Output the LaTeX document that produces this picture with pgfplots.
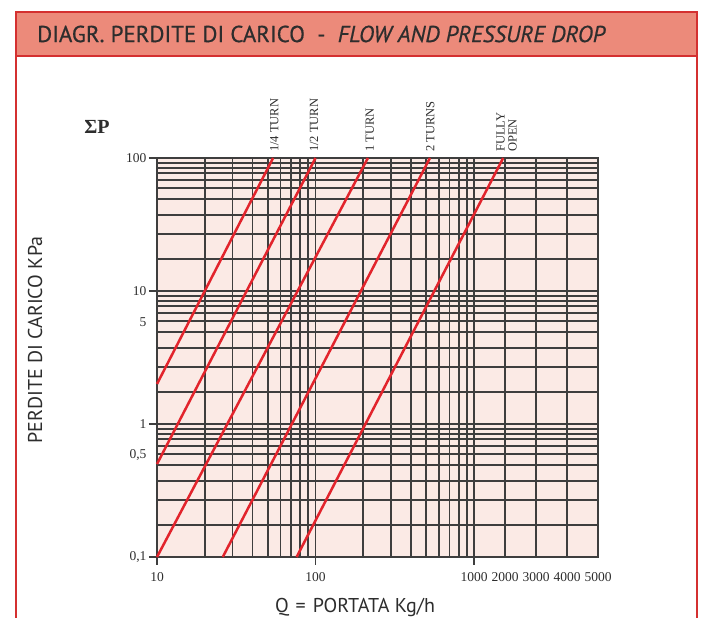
\documentclass[border=0pt]{standalone}
\usepackage{fontspec}
\setmainfont{Liberation Serif}
\newfontfamily\sansf{PT Sans}
\newfontfamily\headf[FakeBold=0.6]{PT Sans}
\usepackage{pgfplots}
\pgfplotsset{compat=1.18}
\definecolor{framec}{RGB}{212,48,48}
\definecolor{headbg}{RGB}{236,138,122}
\definecolor{plotbg}{RGB}{251,234,229}
\definecolor{gridc}{RGB}{62,62,62}
\definecolor{curve}{RGB}{226,36,44}
\definecolor{txt}{RGB}{45,45,45}
% piecewise scale of the chart: logarithmic up to 1000, then equal steps of 1000
\newcommand\qtrafo[1]{%
  \begingroup
  \pgfkeys{/pgf/fpu=true,/pgf/fpu/output format=fixed}%
  \pgfmathparse{(#1<=1000) ? (ln(#1)/ln(10)) : (3+(#1-1000)*0.0001955)}%
  \xdef\qtmp{\pgfmathresult}%
  \endgroup
  \let\pgfmathresult\qtmp}
\tikzset{curvelab/.style={rotate=90, anchor=west, inner sep=0pt, text=txt, font=\fontsize{12.5}{12}\selectfont}}
\begin{document}
\begin{tikzpicture}
\path[use as bounding box] (0pt,0pt) rectangle (705pt,-618pt);
\fill[headbg] (16pt,-12pt) rectangle (697pt,-56pt);
\draw[framec, line width=2.2pt] (16pt,-625pt) -- (16pt,-12pt) -- (697pt,-12pt) -- (697pt,-625pt);
\draw[framec, line width=1.8pt] (16pt,-56pt) -- (697pt,-56pt);
\node[anchor=west, text=txt, inner sep=0pt] at (37pt,-34pt) {\headf\fontsize{23}{26}\selectfont DIAGR. PERDITE DI CARICO\ \ -\ \ \itshape FLOW AND PRESSURE DROP};
\node[rotate=90, text=txt] at (35pt,-340pt) {\sansf\fontsize{20}{22}\selectfont PERDITE DI CARICO KPa};
\node[text=txt] at (355pt,-607pt) {\sansf\fontsize{20}{22}\selectfont Q\hspace{0.35em}=\hspace{0.35em}PORTATA Kg/h};
\node[text=txt] at (97pt,-127pt) {\fontsize{20}{20}\selectfont\bfseries ΣP};
\begin{axis}[
  at={(157pt,-557pt)}, anchor=south west,
  scale only axis, width=441pt, height=399pt,
  ymode=log, ymin=0.1, ymax=100,
  xmin=10, xmax=5000,
  x coord trafo/.code={\qtrafo{#1}},
  /pgf/number format/assume math mode=true,
  axis background/.style={fill=plotbg},
  axis line style={gridc, line width=1.8pt},
  grid=both,
  major grid style={gridc, line width=1.7pt},
  minor grid style={gridc, line width=1.7pt},
  tick align=outside, tick pos=left,
  major tick length=8pt, minor tick length=0pt,
  every tick/.style={gridc, line width=1.7pt},
  xtick={10,100,1000}, xticklabels={10,100,1000},
  minor xtick={20,30,40,50,60,70,80,90,200,300,400,500,600,700,800,900,2000,3000,4000},
  extra x ticks={2000,3000,4000,5000},
  extra x tick labels={2000,3000,4000,5000},
  extra x tick style={grid=none, tick style={draw=none}},
  ytick={0.1,1,10,100}, yticklabels={{0,1},1,10,100},
  minor ytick={0.917,0.841,0.771,0.684,0.595,0.492,0.373,0.268,0.174,
    9.17,8.41,7.71,6.84,5.95,4.92,3.73,2.68,1.74,
    91.7,84.1,77.1,68.4,59.5,49.2,37.3,26.8,17.4},
  extra y ticks={0.58,5.8},
  extra y tick labels={{0,5},5},
  extra y tick style={grid=none, tick style={draw=none}},
  tick label style={font=\fontsize{13.5}{14}\selectfont, text=txt},
  xticklabel style={yshift=-4pt},
  yticklabel style={xshift=1pt},
  clip=false,
]
\addplot[curve, line width=2.5pt] coordinates {(10,2.0) (54,100)};
\addplot[curve, line width=2.5pt] coordinates {(10,0.5) (100,100)};
\addplot[curve, line width=2.5pt] coordinates {(10,0.1) (214,100)};
\addplot[curve, line width=2.5pt] coordinates {(26,0.1) (527,100)};
\addplot[curve, line width=2.5pt] coordinates {(76,0.1) (1940,100)};
\node[curvelab] at ([yshift=6pt]axis cs:55,100) {1/4 TURN};
\node[curvelab] at ([yshift=6pt]axis cs:98,100) {1/2 TURN};
\node[curvelab] at ([yshift=6pt]axis cs:220,100) {1 TURN};
\node[curvelab] at ([yshift=6pt]axis cs:530,100) {2 TURNS};
\node[curvelab, align=left] at ([yshift=6pt]axis cs:2050,100) {FULLY\\OPEN};
\end{axis}
\end{tikzpicture}
\end{document}
